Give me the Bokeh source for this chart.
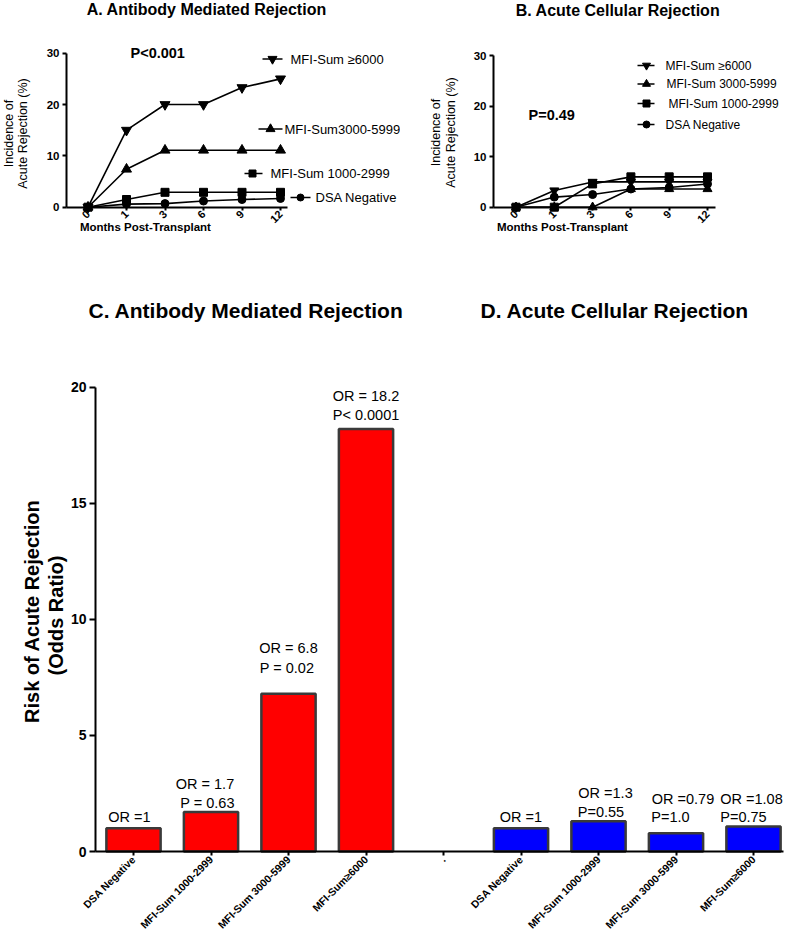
import math
from bokeh.plotting import figure
from bokeh.models import Range1d, FixedTicker, ColumnDataSource
from bokeh.layouts import column, row
from bokeh.embed import file_html
from bokeh.resources import INLINE
from bokeh.core.properties import value

FONT = "Liberation Sans"

# ------------------------------------------------------------------ data
months = ["0", "1", "3", "6", "9", "12"]

# A. Antibody mediated rejection, cumulative incidence (%)
amr_names = ["MFI-Sum \u22656000", "MFI-Sum3000-5999", "MFI-Sum 1000-2999", "DSA Negative"]
amr_6000 = [0, 15.0, 20.0, 20.0, 23.3, 25.0]
amr_3000 = [0, 7.4, 11.1, 11.1, 11.1, 11.1]
amr_1000 = [0, 1.5, 2.9, 2.9, 2.9, 2.9]
amr_neg = [0, 0.6, 0.7, 1.2, 1.5, 1.7]
amr_p = "P<0.001"

# B. Acute cellular rejection, cumulative incidence (%)
acr_names = ["MFI-Sum \u22656000", "MFI-Sum 3000-5999", "MFI-Sum 1000-2999", "DSA Negative"]
acr_6000 = [0, 3.3, 5.0, 5.0, 5.0, 5.0]
acr_3000 = [0, 0, 0, 3.6, 3.6, 3.6]
acr_1000 = [0, 0, 4.6, 6.0, 6.0, 6.0]
acr_neg = [0, 2.0, 2.5, 3.6, 3.9, 4.6]
acr_p = "P=0.49"

# C / D. Odds ratios
or_categories = ["DSA Negative", "MFI-Sum 1000-2999", "MFI-Sum 3000-5999", "MFI-Sum\u22656000"]
spacer = "."
amr_or = [1.0, 1.7, 6.8, 18.2]
amr_or_text = ["OR =1", "OR = 1.7", "OR = 6.8", "OR = 18.2"]
amr_p_text = ["", "P = 0.63", "P = 0.02", "P< 0.0001"]
acr_or = [1.0, 1.3, 0.79, 1.08]
acr_or_text = ["OR =1", "OR =1.3", "OR =0.79", "OR =1.08"]
acr_p_text = ["", "P=0.55", "P=1.0", "P=0.75"]

# ------------------------------------------------------------------ styling (pixel offsets of labels)
amr_l1_dx = [-4, -6, 0, 0]
amr_l1_dy = [-11, -28.5, -46, -33]
amr_l2_dx = [0, -3.5, -1.5, 0]
amr_l2_dy = [0, -9.5, -26, -14]
acr_l1_dx = [0, 7, 7, -2]
acr_l1_dy = [-11, -28, -34, -27]
acr_l2_dx = [0, 2.5, -5.5, -10]
acr_l2_dy = [0, -9, -16, -9]


class Canvas:
    """A figure whose frame fills the whole canvas; pixel -> data helpers."""

    def __init__(self, left, top, width, height, x0px, kx, y0px, ky):
        self.x0px, self.kx, self.y0px, self.ky = x0px, kx, y0px, ky
        self.fig = figure(
            width=width, height=height, output_backend="svg", toolbar_location=None,
            x_range=Range1d(self.dx(left), self.dx(left + width)),
            y_range=Range1d(self.dy(top + height), self.dy(top)),
            min_border=0, outline_line_color=None,
            background_fill_color="white", border_fill_color="white",
        )
        self.fig.grid.visible = False

    def dx(self, px):
        return (px - self.x0px) / self.kx

    def dy(self, py):
        return (self.y0px - py) / self.ky

    def text(self, px, py, s, size, bold=False, align="left", angle=0.0):
        self.fig.text(
            x=[self.dx(px)], y=[self.dy(py)], text=[s],
            text_font=value(FONT), text_font_size=f"{size}px",
            text_font_style="bold" if bold else "normal",
            text_align=align, text_baseline="middle", angle=angle,
            text_color="black",
        )


def setup_axes(c, xaxis_at, yaxis_at, xb, yb, xticks, xlabels, yticks,
               xsize, ysize, xtick_out, ytick_out, xstand, ystand, lw):
    p = c.fig
    xa = p.xaxis[0]
    ya = p.yaxis[0]
    xa.fixed_location = xaxis_at
    ya.fixed_location = yaxis_at
    xa.bounds = xb
    ya.bounds = yb
    xa.ticker = FixedTicker(ticks=xticks)
    xa.major_label_overrides = {t: l for t, l in zip(xticks, xlabels)}
    ya.ticker = FixedTicker(ticks=yticks)
    xa.major_label_orientation = math.pi / 4
    for ax in (xa, ya):
        ax.axis_line_color = "black"
        ax.axis_line_width = lw
        ax.major_tick_line_color = "black"
        ax.major_tick_line_width = lw
        ax.major_tick_in = 0
        ax.minor_tick_line_color = None
        ax.major_label_text_font = FONT
        ax.major_label_text_font_style = "bold"
        ax.major_label_text_color = "black"
    xa.major_label_text_font_size = f"{xsize}px"
    ya.major_label_text_font_size = f"{ysize}px"
    xa.major_tick_out = xtick_out
    ya.major_tick_out = ytick_out
    xa.major_label_standoff = xstand
    ya.major_label_standoff = ystand


def line_panel(c, series, markers, sizes, names, legend_spec, legend_font,
               title, title_cx, title_cy, p_text, p_left, p_cy, ylab_x, ylab_cy, xlab_cx,
               yaxis_px, xaxis_end_px):
    p = c.fig
    idx = list(range(len(months)))
    setup_axes(c, 0, c.dx(yaxis_px), (c.dx(yaxis_px), c.dx(xaxis_end_px)), (0, 30),
               idx, months, [0, 10, 20, 30], 11, 11.5, 3, 4, 2, 3, 2)
    for vals in series:
        p.line(idx, vals, line_color="black", line_width=1.6)
    for vals, mk, sz in zip(series, markers, sizes):
        p.scatter(idx, vals, marker=mk, size=sz, fill_color="black", line_color="black")
    # legend
    for name, mk, sz, (sx1, sx2, mx, tx, ty) in zip(names, markers, sizes, legend_spec):
        p.segment(x0=[c.dx(sx1)], y0=[c.dy(ty)], x1=[c.dx(sx2)], y1=[c.dy(ty)],
                  line_color="black", line_width=1.6)
        p.scatter(x=[c.dx(mx)], y=[c.dy(ty)], marker=mk, size=sz - 1,
                  fill_color="black", line_color="black")
        c.text(tx, ty, name, legend_font)
    c.text(title_cx, title_cy, title, 16, bold=True, align="center")
    c.text(p_left, p_cy, p_text, 14.5, bold=True)
    c.text(ylab_x[0], ylab_cy, "Incidence of", 12.5, align="center", angle=math.pi / 2)
    c.text(ylab_x[1], ylab_cy, "Acute Rejection (%)", 12.5, align="center", angle=math.pi / 2)
    c.text(xlab_cx, 226, "Months  Post-Transplant", 11.5, bold=True, align="center")


markers = ["inverted_triangle", "triangle", "square", "circle"]

# ---- panel A
ca = Canvas(0, 0, 400, 240, 87.5, 38.5, 206.7, 154.0 / 30)
line_panel(
    ca, [amr_6000, amr_3000, amr_1000, amr_neg], markers, [10, 10, 8, 8], amr_names,
    [(262, 282, 272, 290, 58.5), (258, 282, 270, 284, 128.5),
     (244, 262, 252, 270, 173), (290, 310, 300, 315, 197)],
    13, "A. Antibody Mediated  Rejection", 208.5, 9, amr_p, 130, 52.5,
    (8, 22), 133, 146.5, 66, 287,
)

# ---- panel B
cb = Canvas(400, 0, 384, 240, 515.5, 38.3, 206.7, 151.7 / 30)
line_panel(
    cb, [acr_6000, acr_3000, acr_1000, acr_neg], markers, [9, 9, 8, 8], acr_names,
    [(637, 654, 646, 665, 65), (637, 654, 646, 666, 83.5),
     (637, 654, 646, 668, 103), (637, 654, 646, 665, 124)],
    12, "B. Acute Cellular Rejection", 617.5, 10, acr_p, 528, 114,
    (435, 450), 132, 563.5, 493, 715,
)

# ---- panels C / D (bar chart)
cc = Canvas(0, 240, 784, 690, 133, 77.5, 851, 464.3 / 20)
pc = cc.fig
n = len(or_categories)
red_x = list(range(n))
blue_x = [n + 1 + i for i in range(n)]
all_x = list(range(2 * n + 1))
all_labels = or_categories + [spacer] + or_categories
setup_axes(cc, 0, cc.dx(95), (cc.dx(95), cc.dx(783)), (0, 20),
           all_x, all_labels, [0, 5, 10, 15, 20], 10.5, 14, 4, 6, 2, 3, 2)

pc.vbar(x=red_x, top=amr_or, width=0.7, fill_color="#FF0000",
        line_color="#3a3a3a", line_width=2.5)
pc.vbar(x=blue_x, top=acr_or, width=0.7, fill_color="#0000FF",
        line_color="#3a3a3a", line_width=2.5)

LBL = 14.5
for xs, tops, l1, l2, d1x, d1y, d2x, d2y in [
    (red_x, amr_or, amr_or_text, amr_p_text, amr_l1_dx, amr_l1_dy, amr_l2_dx, amr_l2_dy),
    (blue_x, acr_or, acr_or_text, acr_p_text, acr_l1_dx, acr_l1_dy, acr_l2_dx, acr_l2_dy),
]:
    for texts, ddx, ddy in [(l1, d1x, d1y), (l2, d2x, d2y)]:
        src = ColumnDataSource(dict(x=xs, y=tops, t=texts, dx=ddx, dy=ddy))
        pc.text(x="x", y="y", text="t", x_offset="dx", y_offset="dy", source=src,
                text_font=value(FONT), text_font_size=f"{LBL}px",
                text_align="center", text_baseline="middle", text_color="black")

cc.text(88, 309.5, "C. Antibody  Mediated Rejection", 21, bold=True)
cc.text(480, 309.5, "D.  Acute Cellular Rejection", 21, bold=True)
cc.text(31, 608, "Risk of  Acute Rejection", 20, bold=True, align="center", angle=math.pi / 2)
cc.text(55, 615, "(Odds Ratio)", 20, bold=True, align="center", angle=math.pi / 2)

layout = column(row(ca.fig, cb.fig), cc.fig)
open("out.html", "w").write(file_html(layout, INLINE))
